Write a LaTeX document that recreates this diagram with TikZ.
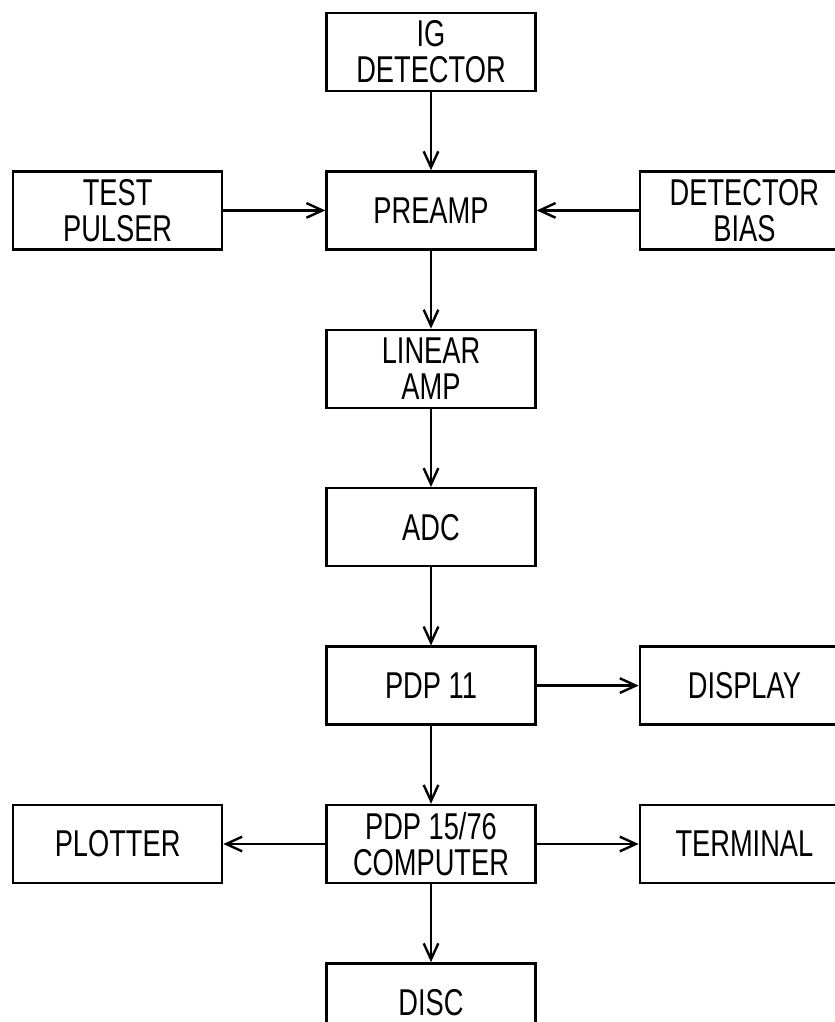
\documentclass[tikz,border=0pt]{standalone}
\usepackage{fontspec}
\setmainfont[FakeStretch=0.73]{Liberation Sans}
\usetikzlibrary{positioning, arrows.meta}

\begin{document}
\begin{tikzpicture}[
        box/.style={rectangle, draw=black, line width=1.8pt, minimum width=156.75pt, minimum height=58.5pt, inner sep=0pt, align=center, font=\fontsize{28}{27}\selectfont},
        arrow/.style={-{Straight Barb[length=12pt, width=11pt]}, line width=1.8pt}
    ]
        \useasboundingbox (0,0) rectangle (626.25pt,-766.5pt);
        \clip (0,0) rectangle (626.25pt,-766.5pt);
        % main column
        \node[box] (IGDET) at (323.25pt,-39pt) {IG\\DETECTOR};
        \node[box, below=58.5pt of IGDET] (PREAMP) {PREAMP};
        \node[box, below=58.5pt of PREAMP] (LINAMP) {LINEAR\\AMP};
        \node[box, below=58.5pt of LINAMP] (ADC) {ADC};
        \node[box, below=58.5pt of ADC] (PDP11) {PDP 11};
        \node[box, below=58.5pt of PDP11] (PDP15) {PDP 15/76\\COMPUTER};
        \node[box, below=58.5pt of PDP15] (DISC) {DISC};
        % side boxes
        \node[box, left=76.5pt of PREAMP] (PULSER) {TEST\\PULSER};
        \node[box, right=76.5pt of PREAMP] (BIAS) {DETECTOR\\BIAS};
        \node[box, right=76.5pt of PDP11] (DISPLAY) {DISPLAY};
        \node[box, left=76.5pt of PDP15] (PLOTTER) {PLOTTER};
        \node[box, right=76.5pt of PDP15] (TERMINAL) {TERMINAL};
        % signal flow
        \draw[arrow] (IGDET) -- (PREAMP);
        \draw[arrow] (PULSER) -- (PREAMP);
        \draw[arrow] (BIAS) -- (PREAMP);
        \draw[arrow] (PREAMP) -- (LINAMP);
        \draw[arrow] (LINAMP) -- (ADC);
        \draw[arrow] (ADC) -- (PDP11);
        \draw[arrow] (PDP11) -- (DISPLAY);
        \draw[arrow] (PDP11) -- (PDP15);
        \draw[arrow] (PDP15) -- (PLOTTER);
        \draw[arrow] (PDP15) -- (TERMINAL);
        \draw[arrow] (PDP15) -- (DISC);
    \end{tikzpicture}
\end{document}
